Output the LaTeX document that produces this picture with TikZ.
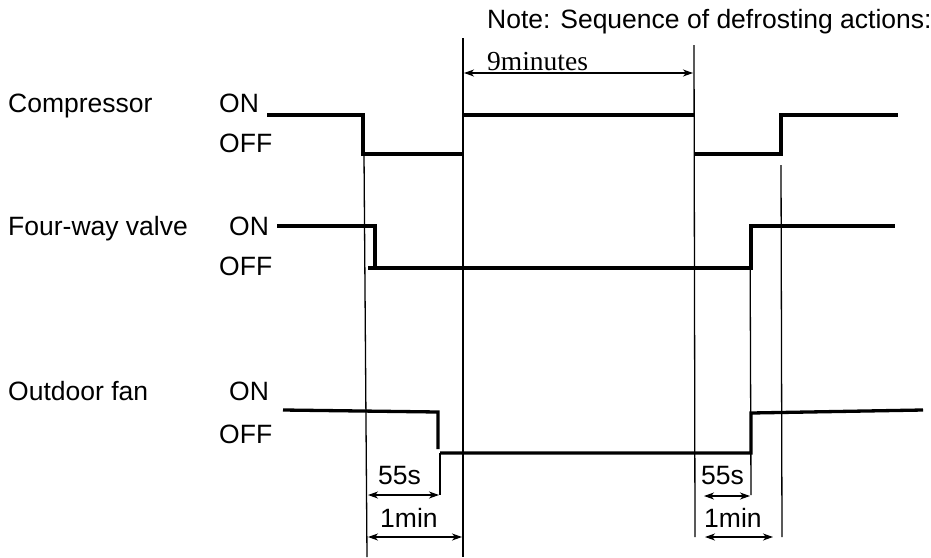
\documentclass[tikz,border=0pt]{standalone}
\usepackage{fontspec}
\setmainfont{Liberation Sans}
\newfontfamily\timesfont{Liberation Serif}
\usetikzlibrary{arrows.meta, positioning}

\begin{document}
\begin{tikzpicture}[x=1pt, y=-1pt]
    \tikzstyle{caption} = [inner sep=0, anchor=base west, font=\fontsize{26.5}{30}\selectfont];
    \tikzstyle{signal} = [line width=3.3pt];
    \tikzstyle{timeline} = [line width=1.3pt];
    \tikzstyle{spanarrow} = [line width=1.3pt, {Stealth[length=10pt, width=7pt, inset=3pt]}-{Stealth[length=10pt, width=7pt, inset=3pt]}];

    \useasboundingbox (0, 0) rectangle (931, 557);

    % labels
    \node[caption] (note) at (487, 28) {Note: Sequence of defrosting actions:};
    \node[caption, font=\timesfont\fontsize{27.5}{30}\selectfont] (nine) at (487, 70) {9minutes};

    \node[caption] (comp) at (8, 112) {Compressor};
    \node[caption] (compon) at (219, 112) {ON};
    \node[caption] (compoff) at (219, 152) {OFF};

    \node[caption] (valve) at (8, 235) {Four-way valve};
    \node[caption] (valveon) at (229, 235) {ON};
    \node[caption] (valveoff) at (219, 275) {OFF};

    \node[caption] (fan) at (8, 400) {Outdoor fan};
    \node[caption] (fanon) at (229, 400) {ON};
    \node[caption] (fanoff) at (219, 443) {OFF};

    \node[caption] (s55a) at (378, 484) {55s};
    \node[caption] (min1a) at (380, 527) {1min};
    \node[caption] (s55b) at (701, 484) {55s};
    \node[caption] (min1b) at (704, 527) {1min};

    % time marks
    \draw[timeline] (364, 154) -- (367, 557);
    \draw[timeline] (463, 38) -- (463, 557);
    \draw[timeline] (694, 45) -- (695, 537);
    \draw[timeline] (750, 226) -- (751, 495);
    \draw[timeline] (781, 165) -- (782, 537);
    \draw[timeline] (440, 453) -- (440, 495);

    % compressor
    \draw[signal] (267, 115) -- (363, 115) -- (363, 154) -- (463, 154);
    \draw[signal] (463, 115) -- (694, 115);
    \draw[signal] (695, 154) -- (781, 154) -- (781, 115) -- (898, 115);

    % four-way valve
    \draw[signal] (277, 226) -- (375, 226) -- (375, 268);
    \draw[signal] (368, 268) -- (751, 268) -- (751, 226) -- (895, 226);

    % outdoor fan
    \draw[signal] (283, 410) -- (438, 412) -- (438, 449);
    \draw[signal] (440, 453) -- (751, 453) -- (751, 413) -- (923, 410);

    % spans
    \draw[spanarrow] (464, 73) -- (693, 73);
    \draw[spanarrow] (368, 495) -- (439, 495);
    \draw[spanarrow] (368, 537) -- (462, 537);
    \draw[spanarrow] (704, 496) -- (750, 496);
    \draw[spanarrow] (705, 537) -- (773, 537);
\end{tikzpicture}
\end{document}
